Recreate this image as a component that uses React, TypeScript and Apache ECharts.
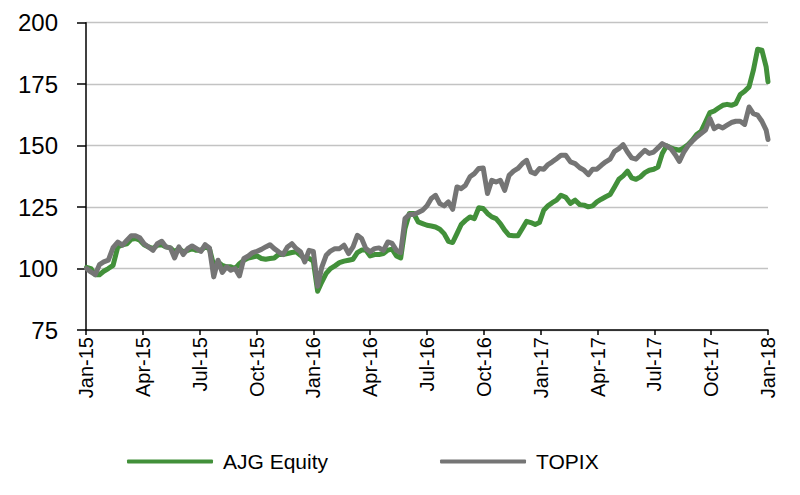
import React, { useEffect, useRef } from "react";
import * as echarts from "echarts";

const seriesNames = ["AJG Equity", "TOPIX"];

const tickLabels = [
  "Jan-15", "Apr-15", "Jul-15", "Oct-15",
  "Jan-16", "Apr-16", "Jul-16", "Oct-16",
  "Jan-17", "Apr-17", "Jul-17", "Oct-17", "Jan-18",
];

// weekly observation dates (Fridays) plus the final point
const dates2015 = [
  "2015-01-02", "2015-01-09", "2015-01-16", "2015-01-23", "2015-01-30",
  "2015-02-06", "2015-02-13", "2015-02-20", "2015-02-27",
  "2015-03-06", "2015-03-13", "2015-03-20", "2015-03-27",
  "2015-04-03", "2015-04-10", "2015-04-17", "2015-04-24",
  "2015-05-01", "2015-05-08", "2015-05-15", "2015-05-22", "2015-05-29",
  "2015-06-05", "2015-06-12", "2015-06-19", "2015-06-26",
  "2015-07-03", "2015-07-10", "2015-07-17", "2015-07-24", "2015-07-31",
  "2015-08-07", "2015-08-14", "2015-08-21", "2015-08-28",
  "2015-09-04", "2015-09-11", "2015-09-18", "2015-09-25",
  "2015-10-02", "2015-10-09", "2015-10-16", "2015-10-23", "2015-10-30",
  "2015-11-06", "2015-11-13", "2015-11-20", "2015-11-27",
  "2015-12-04", "2015-12-11", "2015-12-18", "2015-12-25",
];
const dates2016 = [
  "2016-01-01", "2016-01-08", "2016-01-15", "2016-01-22", "2016-01-29",
  "2016-02-05", "2016-02-12", "2016-02-19", "2016-02-26",
  "2016-03-04", "2016-03-11", "2016-03-18", "2016-03-25",
  "2016-04-01", "2016-04-08", "2016-04-15", "2016-04-22", "2016-04-29",
  "2016-05-06", "2016-05-13", "2016-05-20", "2016-05-27",
  "2016-06-03", "2016-06-10", "2016-06-17", "2016-06-24",
  "2016-07-01", "2016-07-08", "2016-07-15", "2016-07-22", "2016-07-29",
  "2016-08-05", "2016-08-12", "2016-08-19", "2016-08-26",
  "2016-09-02", "2016-09-09", "2016-09-16", "2016-09-23", "2016-09-30",
  "2016-10-07", "2016-10-14", "2016-10-21", "2016-10-28",
  "2016-11-04", "2016-11-11", "2016-11-18", "2016-11-25",
  "2016-12-02", "2016-12-09", "2016-12-16", "2016-12-23", "2016-12-30",
];
const dates2017 = [
  "2017-01-06", "2017-01-13", "2017-01-20", "2017-01-27",
  "2017-02-03", "2017-02-10", "2017-02-17", "2017-02-24",
  "2017-03-03", "2017-03-10", "2017-03-17", "2017-03-24", "2017-03-31",
  "2017-04-07", "2017-04-14", "2017-04-21", "2017-04-28",
  "2017-05-05", "2017-05-12", "2017-05-19", "2017-05-26",
  "2017-06-02", "2017-06-09", "2017-06-16", "2017-06-23", "2017-06-30",
  "2017-07-07", "2017-07-14", "2017-07-21", "2017-07-28",
  "2017-08-04", "2017-08-11", "2017-08-18", "2017-08-25",
  "2017-09-01", "2017-09-08", "2017-09-15", "2017-09-22", "2017-09-29",
  "2017-10-06", "2017-10-13", "2017-10-20", "2017-10-27",
  "2017-11-03", "2017-11-10", "2017-11-17", "2017-11-24",
  "2017-12-01", "2017-12-08", "2017-12-15", "2017-12-22", "2017-12-29",
  "2018-01-01",
];

const ajg2015 = [
  100.5, 100, 97.5, 97.5, 98.9, 100, 101.3, 108.8, 109.7, 110.1, 111.9, 112.2,
  111.5, 109.7, 108.8, 108.1, 109.5, 109.7, 108.8, 108.4, 106.8, 108.1, 106.8, 107.4,
  108.1, 107.4, 107.4, 108.8, 108.1, 101.3, 102.7, 101.3, 100.7, 100.7, 100, 102,
  103.4, 104.3, 104.7, 105.1, 104.1, 103.8, 104.1, 104.3, 105.7, 105.7, 106.1, 106.5,
  106.8, 105.4, 104.1, 104.1,
];
const ajg2016 = [
  103, 90.8, 94.6, 98, 100, 101.1, 102.4, 103, 103.4, 103.8,
  106.5, 107.5, 107.5, 105.1, 105.7, 105.7, 106.1, 107.5, 107.9, 105.1,
  104.3, 116.3, 122.4, 122.4, 119, 118.3, 117.6, 117.3, 116.9, 116,
  114.2, 111.1, 110.6, 114.2, 117.9, 119.6, 121, 120.3, 124.7, 124.4,
  122.4, 121, 120.3, 118.3, 115.6, 113.5, 113.3, 113.3, 116.3, 119.2,
  118.7, 117.9, 118.7,
];
const ajg2017 = [
  123.7, 125.5, 126.8, 127.8, 129.8, 129, 126.5, 127.8, 126, 125.8,
  125.1, 125.5, 127.1, 128.2, 129.2, 130.1, 133.2, 136.3, 137.7, 139.6,
  136.9, 136.3, 137.3, 139, 140, 140.4, 141.3, 146.8, 149.9, 149.1,
  148.5, 148.1, 149.1, 150.4, 152.2, 154.5, 155.8, 159.6, 163.4, 164.1,
  165.3, 166.4, 166.8, 166.4, 167.1, 170.8, 172.1, 173.9, 180.6, 189.2,
  188.8, 182,
  176,
];

const topix2015 = [
  100, 98.6, 97.5, 101.6, 102.7, 103.4, 108.5, 110.8, 109.5, 111.5, 113.3, 113.3,
  112.5, 110.1, 108.8, 107.4, 110.1, 111.1, 108.8, 108.4, 104.3, 108.8, 105.7, 108.1,
  109.2, 108.1, 107, 109.7, 108.4, 96.6, 103.4, 98.4, 100.7, 99.3, 100, 97,
  104.1, 105.1, 106.5, 107, 107.8, 108.8, 109.7, 108.1, 106.8, 105.7, 108.8, 110.1,
  108.1, 106.8, 102.7, 107.4,
];
const topix2016 = [
  107, 92.8, 100.7, 105.4, 107.1, 108.1, 108.1, 109.5, 106.1, 108.8,
  113.5, 112.2, 108.1, 106.8, 108.1, 108.4, 107.4, 110.8, 110.2, 107.4,
  106.5, 120.3, 122, 122, 122.8, 123.7, 125.5, 128.5, 129.8, 126.4,
  125.5, 127.1, 124.1, 133.2, 132.5, 133.9, 137.3, 138.6, 140.7, 140.9,
  130.5, 135.9, 135.2, 135.9, 131.8, 137.9, 139.6, 140.7, 142.7, 144,
  139.3, 138.6, 140.7,
];
const topix2017 = [
  140.4, 142.3, 143.4, 144.7, 146.1, 146.1, 143.4, 142.7, 141, 140,
  138.2, 140.4, 140.4, 142, 143.4, 144.5, 147.7, 148.8, 150.4, 147.4,
  145, 144.5, 146.4, 148.1, 146.8, 147.4, 149.1, 150.8, 149.9, 148.8,
  146.4, 143.6, 147.2, 149.9, 151.8, 153.5, 154.9, 156.3, 161, 156.9,
  158, 157.2, 158.3, 159.4, 159.9, 159.9, 158.6, 165.7, 163, 162.4,
  159.9, 156.3,
  152.5,
];

const FONT = "'Liberation Sans', Arial, Helvetica, sans-serif";
const GREEN = "#42903a";
const GREY = "#757575";

// months elapsed since Jan 2015 (quarter ticks land on multiples of 3)
function toMonths(s: string): number {
  const [y, m, d] = s.split("-").map(Number);
  const dim = new Date(Date.UTC(y, m, 0)).getUTCDate();
  return (y - 2015) * 12 + (m - 1) + (d - 1) / dim;
}

export default function App() {
  const ref = useRef<HTMLDivElement>(null);

  useEffect(() => {
    if (!ref.current) return;
    const chart = echarts.init(ref.current, null, { renderer: "svg" });
    const xs = [...dates2015, ...dates2016, ...dates2017].map(toMonths);
    const ajg = [...ajg2015, ...ajg2016, ...ajg2017];
    const topix = [...topix2015, ...topix2016, ...topix2017];
    const mk = (vals: number[]) => vals.map((v, i) => [xs[i], v]);

    chart.setOption({
      animation: false,
      backgroundColor: "#ffffff",
      textStyle: { fontFamily: FONT },
      grid: { left: 86, right: 32, top: 22.7, bottom: 165, containLabel: false },
      legend: {
        data: seriesNames,
        left: 122,
        top: 446,
        icon: "roundRect",
        itemWidth: 86,
        itemHeight: 4,
        itemGap: 112,
        textStyle: { fontSize: 21, color: "#000", fontFamily: FONT, padding: [0, 0, 0, 5] },
      },
      xAxis: {
        type: "value",
        min: 0,
        max: 36,
        interval: 3,
        axisLine: { show: true, onZero: false, lineStyle: { color: "#000", width: 1.5 } },
        axisTick: { show: true, length: 5, lineStyle: { color: "#000", width: 1.5 } },
        splitLine: { show: false },
        axisLabel: {
          rotate: 90,
          margin: 7,
          fontSize: 20,
          color: "#000",
          fontFamily: FONT,
          formatter: (v: number) => tickLabels[Math.round(v / 3)] ?? "",
        },
      },
      yAxis: {
        type: "value",
        min: 75,
        max: 200,
        interval: 25,
        axisLine: { show: true, onZero: false, lineStyle: { color: "#000", width: 1.5 } },
        axisTick: { show: true, length: 9, lineStyle: { color: "#000", width: 1.5 } },
        splitLine: { show: true, lineStyle: { color: "#c3c3c3", width: 1.3 } },
        axisLabel: { fontSize: 24, margin: 28, color: "#000", fontFamily: FONT },
      },
      series: [
        {
          name: seriesNames[0],
          type: "line",
          data: mk(ajg),
          showSymbol: false,
          symbol: "none",
          lineStyle: { width: 5, color: GREEN, cap: "round", join: "round" },
          itemStyle: { color: GREEN },
        },
        {
          name: seriesNames[1],
          type: "line",
          data: mk(topix),
          showSymbol: false,
          symbol: "none",
          lineStyle: { width: 5, color: GREY, cap: "round", join: "round" },
          itemStyle: { color: GREY },
        },
      ],
    });

    return () => chart.dispose();
  }, []);

  return (
    <div
      ref={ref}
      style={{ position: "fixed", left: 0, top: 0, width: 800, height: 495, background: "#fff" }}
    />
  );
}
